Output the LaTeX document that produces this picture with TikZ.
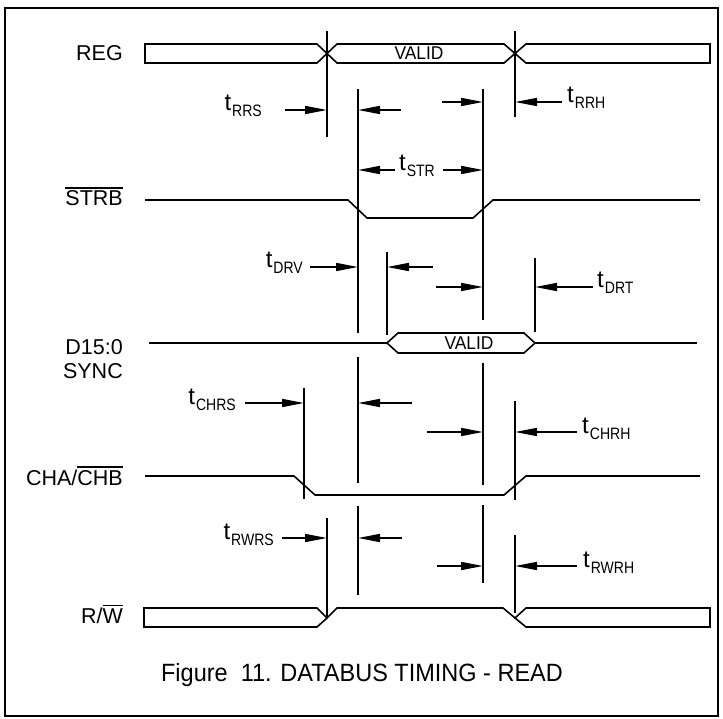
\documentclass[tikz,border=0pt]{standalone}
\usepackage{fontspec}
\setmainfont{Liberation Sans}
\newfontfamily\narrowfont[FakeStretch=0.85]{Liberation Sans}
\newfontfamily\midfont[FakeStretch=0.94]{Liberation Sans}
\usetikzlibrary{arrows.meta}
\newcommand{\ovl}[1]{\vbox{\hrule height 1.4pt\kern 2.2pt\hbox{#1}}}
\newcommand{\tsub}[1]{t\kern1pt\raisebox{-6pt}{\narrowfont\fontsize{16.5}{16.5}\selectfont #1}}
\tikzset{
  sig/.style={line width=1.6pt, line join=miter},
  vl/.style={line width=1.4pt},
  arr/.style={line width=1.6pt, -{Triangle[length=22pt,width=8pt]}},
  lbl/.style={font=\fontsize{21.5}{21.5}\selectfont, inner sep=0pt},
  tlbl/.style={font=\fontsize{24}{24}\selectfont, inner sep=0pt},
  vtxt/.style={font=\midfont\fontsize{18.5}{18.5}\selectfont, inner sep=0pt},
  captxt/.style={font=\midfont\fontsize{25}{25}\selectfont, inner sep=0pt}
}
\begin{document}
\begin{tikzpicture}[x=1pt,y=-1pt]
\useasboundingbox (0,0) rectangle (723,719);
% frame
\draw[line width=1.3pt] (5,8) rectangle (718,716);

% signal labels
\node[lbl, anchor=base east] (lreg) at (123,61) {REG};
\node[lbl, anchor=base east] (lstrb) at (123,206) {\ovl{STRB}};
\node[lbl, anchor=base east] (ld) at (123,355) {D15:0};
\node[lbl, anchor=base east] (ls) at (123,378) {SYNC};
\node[lbl, anchor=base east] (lcha) at (123,485) {CHA/\ovl{CHB}};
\node[lbl, anchor=base east] (lrw) at (123,623) {R/\ovl{W}};

% REG bus
\draw[sig] (145,44) -- (317,44) -- (327,53.5) -- (317,63) -- (145,63) -- cycle;
\draw[sig] (327,53.5) -- (337,44) -- (504,44) -- (515,53.5) -- (504,63) -- (337,63) -- cycle;
\draw[sig] (515,53.5) -- (526,44) -- (710,44) -- (710,63) -- (526,63) -- cycle;
\node[vtxt, anchor=base] (v1) at (419,60) {VALID};

% STRB
\draw[sig] (145,200) -- (348,200) -- (367,218) -- (473,218) -- (493,200) -- (700,200);

% D15:0
\draw[sig] (149,343) -- (387,343);
\draw[sig] (387,343) -- (398,333) -- (524,333) -- (535,343) -- (524,353) -- (398,353) -- cycle;
\draw[sig] (535,343) -- (697,343);
\node[vtxt, anchor=base] (v2) at (469,349.5) {VALID};

% CHA/CHB
\draw[sig] (145,476) -- (294,476) -- (315,495) -- (504,495) -- (526,476) -- (700,476);

% R/W
\draw[sig] (144,608) -- (317,608) -- (327,618) -- (317,627) -- (144,627) -- cycle;
\draw[sig] (327,618) -- (337,608) -- (503,608) -- (515,618);
\draw[sig] (515,618) -- (526,608) -- (710,608) -- (710,627) -- (526,627) -- cycle;

% vertical timing lines
\draw[vl] (327,31) -- (327,137);
\draw[vl] (515,31) -- (515,117);
\draw[vl] (358,89) -- (358,333);
\draw[vl] (358,357) -- (358,483);
\draw[vl] (358,506) -- (358,595);
\draw[vl] (483,89) -- (483,320);
\draw[vl] (483,363) -- (483,485);
\draw[vl] (483,505) -- (483,583);
\draw[vl] (387,252) -- (387,335);
\draw[vl] (535,258) -- (535,332);
\draw[vl] (304,388) -- (304,499);
\draw[vl] (515,401) -- (515,500);
\draw[vl] (327,518) -- (327,617);
\draw[vl] (515,535) -- (515,613);

% arrows
\draw[arr] (285,110) -- (327,110);
\draw[arr] (401,110) -- (358,110);
\draw[arr] (442,102) -- (483,102);
\draw[arr] (562,102) -- (515,102);
\draw[arr] (395,170) -- (358,170);
\draw[arr] (443,170) -- (483,170);
\draw[arr] (310,267) -- (358,267);
\draw[arr] (433,267) -- (387,267);
\draw[arr] (436,287) -- (483,287);
\draw[arr] (593,287) -- (535,287);
\draw[arr] (245,403) -- (304,403);
\draw[arr] (412,403) -- (358,403);
\draw[arr] (427,432) -- (483,432);
\draw[arr] (577,432) -- (515,432);
\draw[arr] (282,538) -- (327,538);
\draw[arr] (402,538) -- (358,538);
\draw[arr] (437,566) -- (483,566);
\draw[arr] (577,566) -- (515,566);

% timing labels
\node[tlbl, anchor=base east] (trrs) at (262,111) {\tsub{RRS}};
\node[tlbl, anchor=base west] (trrh) at (567,103) {\tsub{RRH}};
\node[tlbl, anchor=base] (tstr) at (417,171) {\tsub{STR}};
\node[tlbl, anchor=base east] (tdrv) at (303,268) {\tsub{DRV}};
\node[tlbl, anchor=base west] (tdrt) at (597,288) {\tsub{DRT}};
\node[tlbl, anchor=base east] (tchrs) at (236,404) {\tsub{CHRS}};
\node[tlbl, anchor=base west] (tchrh) at (582,433) {\tsub{CHRH}};
\node[tlbl, anchor=base east] (trwrs) at (274,539) {\tsub{RWRS}};
\node[tlbl, anchor=base west] (trwrh) at (583,567) {\tsub{RWRH}};

% caption
\node[captxt] (caption) at (362,675) {Figure\ \ 11. DATABUS TIMING - READ};
\end{tikzpicture}
\end{document}
